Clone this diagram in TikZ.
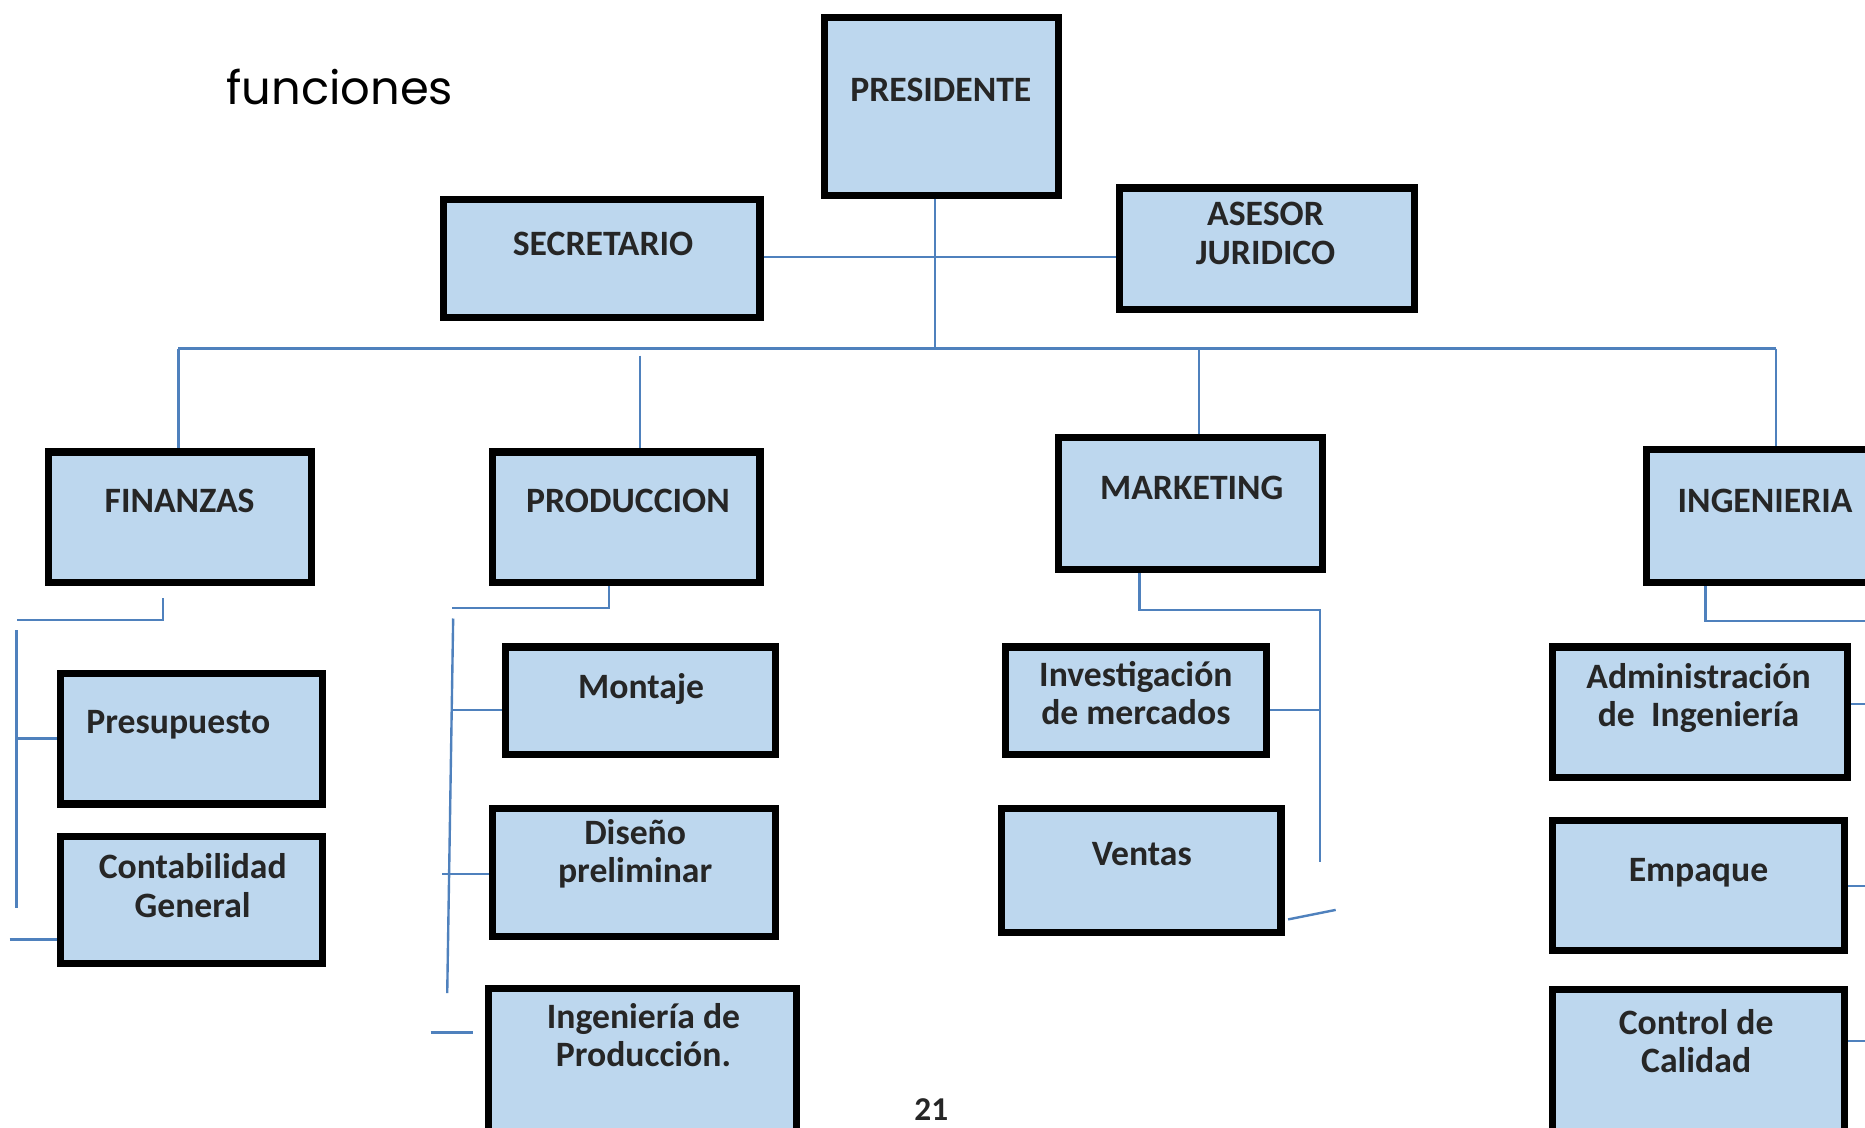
\documentclass[tikz,border=0pt]{standalone}
\usepackage{fontspec}
\setmainfont{Carlito}
\newfontfamily\gothic{Poppins}
\usetikzlibrary{fit}
\definecolor{boxblue}{HTML}{BDD7EE}
\definecolor{linkblue}{HTML}{4F81BD}
\definecolor{txt}{HTML}{262626}
\begin{document}
\begin{tikzpicture}[x=0.5pt,y=-0.5pt,
  box/.style={draw=black, line width=3pt, fill=boxblue, inner sep=0pt},
  conn/.style={draw=linkblue, line width=1pt},
  lbl/.style={font=\bfseries\fontsize{15}{16}\selectfont, text=txt, align=center, anchor=base, inner sep=0pt}]
\useasboundingbox (0,0) rectangle (1568,948);
\fill[white] (0,0) rectangle (1568,948);
\clip (0,0) rectangle (1568,948);

% title
\node[font=\gothic\fontsize{19.5}{22}\selectfont, anchor=base west, inner sep=0pt] (title) at (190,88) {funciones};

% boxes
\node[box, fit={(693,15) (890,164)}] (pres) {};
\node[box, fit={(373,168) (639,267)}] (sec) {};
\node[box, fit={(941,158) (1189,260)}] (ases) {};
\node[box, fit={(41,380) (262,490)}] (fin) {};
\node[box, fit={(414,380) (639,490)}] (prod) {};
\node[box, fit={(890,368) (1112,479)}] (mkt) {};
\node[box, fit={(1384,378) (1600,490)}] (ing) {};
\node[box, fit={(51,566) (271,676)}] (presu) {};
\node[box, fit={(51,703) (271,810)}] (cont) {};
\node[box, fit={(425,544) (652,634)}] (mont) {};
\node[box, fit={(414,680) (652,787)}] (dis) {};
\node[box, fit={(411,831) (670,965)}] (ingp) {};
\node[box, fit={(845,544) (1065,634)}] (inv) {};
\node[box, fit={(842,680) (1077,784)}] (ven) {};
\node[box, fit={(1305,544) (1553,654)}] (adm) {};
\node[box, fit={(1305,690) (1551,799)}] (emp) {};
\node[box, fit={(1305,832) (1551,965)}] (cal) {};

% labels
\node[lbl] (tpres) at (791,85) {PRESIDENTE};
\node[lbl] (tsec) at (507,215) {SECRETARIO};
\node[lbl] (tases) at (1064,222) {ASESOR\\JURIDICO};
\node[lbl] (tfin) at (151,431) {FINANZAS};
\node[lbl] (tprod) at (528,431) {PRODUCCION};
\node[lbl] (tmkt) at (1002,420) {MARKETING};
\node[lbl] (ting) at (1484,431) {INGENIERIA};
\node[lbl] (tpresu) at (150,617) {Presupuesto};
\node[lbl] (tcont) at (162,771) {Contabilidad\\General};
\node[lbl] (tmont) at (539,587) {Montaje};
\node[lbl] (tdis) at (534,742) {Diseño\\preliminar};
\node[lbl] (tingp) at (541,897) {Ingeniería de\\Producción.};
\node[lbl] (tinv) at (955,609) {Investigación\\de mercados};
\node[lbl] (tven) at (960,728) {Ventas};
\node[lbl] (tadm) at (1428,611) {Administración\\de\ \ Ingeniería};
\node[lbl] (temp) at (1428,741) {Empaque};
\node[lbl] (tcal) at (1426,902) {Control de\\Calidad};
\node[lbl, font=\bfseries\fontsize{14}{16}\selectfont] (page) at (783,942) {21};

% top connectors
\coordinate (busC) at (786,293);
\coordinate (busL) at (150,293);
\coordinate (busR) at (1493,293);
\coordinate (sa) at (786,216);
\coordinate (pd) at (538,299);
\coordinate (md) at (1008,293);
\draw[conn] (pres.south -| busC) -- (busC);
\draw[conn] (sec.east |- sa) -- (ases.west |- sa);
\draw[conn] (busL) -- (busR);
\draw[conn] (busL) -- (busL |- fin.north);
\draw[conn] (pd) -- (pd |- prod.north);
\draw[conn] (md) -- (md |- mkt.north);
\draw[conn] (busR) -- (busR |- ing.north);

% finanzas branch
\coordinate (fA) at (137,503);
\coordinate (fB) at (14,521);
\coordinate (fC) at (14,530);
\coordinate (fD) at (14,763);
\coordinate (fE) at (8,790);
\draw[conn] (fA) |- (fB);
\draw[conn] (fC) -- (fD);
\draw[conn] (presu.west -| fC) -- (presu.west);
\draw[conn] (fE) -- (fE -| cont.west);

% produccion branch
\coordinate (pA) at (512,493);
\coordinate (pB) at (380,511);
\coordinate (pC) at (381,520);
\coordinate (pD) at (376,835);
\coordinate (pE) at (380,597);
\coordinate (pF) at (372,735);
\coordinate (pG) at (362,868);
\coordinate (pH) at (398,868);
\draw[conn] (prod.south -| pA) |- (pB);
\draw[conn] (pC) -- (pD);
\draw[conn] (pE) -- (pE -| mont.west);
\draw[conn] (pF) -- (pF -| dis.west);
\draw[conn] (pG) -- (pH);

% marketing branch
\coordinate (mA) at (958,482);
\coordinate (mT) at (1110,513);
\coordinate (mB) at (1110,725);
\coordinate (mC) at (1110,597);
\coordinate (mE) at (1083,773);
\coordinate (mD) at (1123,765);
\draw[conn] (mkt.south -| mA) |- (mT) -- (mB);
\draw[conn] (mC -| inv.east) -- (mC);
\draw[conn] (mE) -- (mD);

% ingenieria branch
\coordinate (iA) at (1434,493);
\coordinate (iB) at (1568,522);
\coordinate (iC) at (1568,592);
\coordinate (iD) at (1568,745);
\coordinate (iE) at (1568,875);
\draw[conn] (ing.south -| iA) |- (iB);
\draw[conn] (iC -| adm.east) -- (iC);
\draw[conn] (iD -| emp.east) -- (iD);
\draw[conn] (iE -| cal.east) -- (iE);
\end{tikzpicture}
\end{document}
